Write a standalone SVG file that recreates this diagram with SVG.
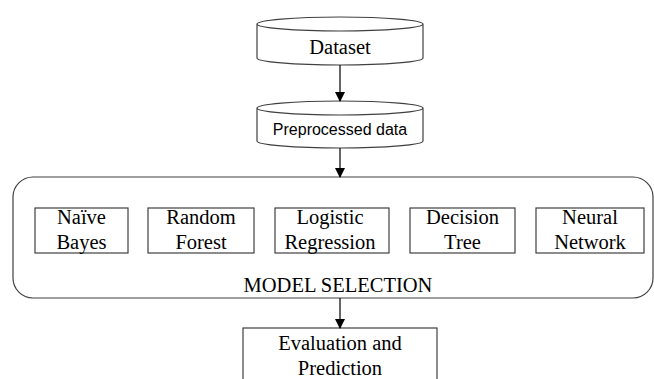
<svg xmlns="http://www.w3.org/2000/svg" width="654" height="379" viewBox="0 0 654 379">
<defs>
<marker id="ah" markerWidth="10" markerHeight="10" refX="9" refY="5" orient="auto" markerUnits="userSpaceOnUse">
<path d="M0,0 L10,5 L0,10 z" fill="#000"/>
</marker>
<style>
.shape{fill:#fff;stroke:#404040;stroke-width:1.2}
.t{font-family:"Liberation Serif","Times New Roman",serif;font-size:20.5px;fill:#000;text-anchor:middle}
.s{font-family:"Liberation Sans",Arial,sans-serif;font-size:16px;fill:#000;text-anchor:middle}
.c{stroke:#000;stroke-width:1.2;fill:none}
</style>
</defs>
<rect width="654" height="379" fill="#fff"/>
<g id="dataset">
<path class="shape" d="M257,24 L257,58 A83,7 0 0 0 423,58 L423,24 A83,7 0 0 0 257,24 A83,7 0 0 0 423,24"/>
<text class="t" x="340" y="54">Dataset</text>
</g>
<g id="preprocessed">
<path class="shape" d="M257,108 L257,141 A83,7 0 0 0 423,141 L423,108 A83,7 0 0 0 257,108 A83,7 0 0 0 423,108"/>
<text class="s" x="340" y="135">Preprocessed  data</text>
</g>
<g id="model-selection">
<rect class="shape" x="13" y="177" width="640" height="121" rx="20" ry="20"/>
<text class="t" x="338" y="292">MODEL  SELECTION</text>
</g>
<g id="naive-bayes">
<rect class="shape" x="35" y="208" width="93" height="45"/>
<text class="t" x="81.5" y="224">Naïve</text>
<text class="t" x="81.5" y="249">Bayes</text>
</g>
<g id="random-forest">
<rect class="shape" x="148" y="208" width="106" height="45"/>
<text class="t" x="201" y="224">Random</text>
<text class="t" x="201" y="249">Forest</text>
</g>
<g id="logistic-regression">
<rect class="shape" x="275" y="208" width="114" height="45"/>
<text class="t" x="330" y="224">Logistic</text>
<text class="t" x="330" y="249">Regression</text>
</g>
<g id="decision-tree">
<rect class="shape" x="410" y="208" width="105" height="45"/>
<text class="t" x="462.5" y="224">Decision</text>
<text class="t" x="462.5" y="249">Tree</text>
</g>
<g id="neural-network">
<rect class="shape" x="536" y="208" width="108" height="45"/>
<text class="t" x="590" y="224">Neural</text>
<text class="t" x="590" y="249">Network</text>
</g>
<g id="evaluation">
<rect class="shape" x="243" y="328" width="194" height="70"/>
<text class="t" x="340" y="350">Evaluation and</text>
<text class="t" x="340" y="375">Prediction</text>
</g>
<g id="connectors">
<line class="c" x1="340" y1="65" x2="340" y2="101" marker-end="url(#ah)"/>
<line class="c" x1="340" y1="148" x2="340" y2="177" marker-end="url(#ah)"/>
<line class="c" x1="340" y1="298" x2="340" y2="328" marker-end="url(#ah)"/>
</g>
</svg>
